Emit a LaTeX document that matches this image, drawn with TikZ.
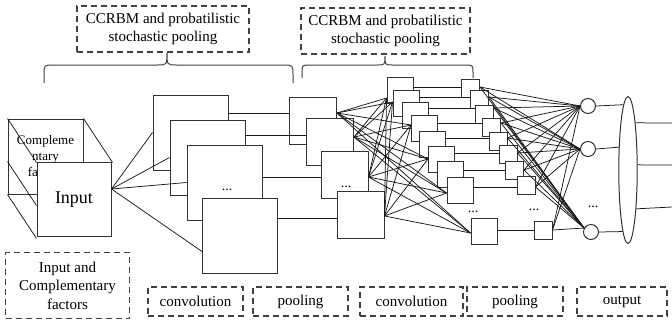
\documentclass[tikz,border=0pt]{standalone}
\usepackage{fontspec}
\setmainfont{Liberation Serif}
\usetikzlibrary{shapes.geometric}
\begin{document}
\begin{tikzpicture}[x=1pt,y=-1pt,
  sq/.style={draw=black!80, line width=1pt, fill=white, inner sep=0pt,
             minimum width=#1, minimum height=#1},
  wire/.style={draw=black!90, line width=0.75pt},
  lbl/.style={draw=black!75, dash pattern=on 6pt off 4pt, line width=1.1pt,
              inner sep=0pt, align=center, font=\fontsize{15}{18.5}\selectfont},
  neuron/.style={circle, draw=black!80, line width=1pt, fill=white,
                 minimum size=15pt, inner sep=0pt},
  dots/.style={inner sep=0pt, font=\fontsize{14}{14}\selectfont},
  brace/.style={draw=black!75, line width=1pt}
]
\useasboundingbox (0,0) rectangle (672,322);

% ---- input cube ----
\node[sq=75pt, align=center, font=\fontsize{13}{16}\selectfont] (cback) at (45.5,156.5) {Compleme\\ntary\\factors};
\draw[wire] (cback.north west) -- ++(29,44);
\draw[wire] (cback.north east) -- ++(29,44);
\draw[wire] ([yshift=-43pt]cback.north west) -- ++(29,44);
\draw[wire] (cback.south west) -- ++(29,44);
\node[sq=74pt, font=\fontsize{18}{18}\selectfont] (cfront) at (74,199.5) {Input};

% ---- first convolution layer ----
\node[sq=75pt] (A) at (190.5,132.5) {};
\node[sq=75pt] (B) at (207.5,157.5) {};
\node[sq=75pt] (C) at (224.5,182.5) {};
\node[dots] (d1) at (227,190) {...};
\node[sq=75pt] (D) at (240,235.5) {};

% ---- first pooling layer ----
\node[sq=47pt] (P1) at (313,120.5) {};
\node[sq=47pt] (P2) at (330,142) {};
\node[sq=47pt] (P3) at (344.5,174.5) {};
\node[dots] (d2) at (346,187) {...};
\node[sq=47pt] (P4) at (360.5,215) {};

% ---- second convolution layer ----
\foreach \n/\x/\y in {Q1/400/90, Q2/406/103.5, Q3/415/115, Q4/424.5/128.5,
                      Q5/432/144, Q6/441.5/159, Q7/450/174, Q8/460/190.5, Q9/484/231.5}
  \node[sq=26pt] (\n) at (\x,\y) {};
\node[dots] (d3) at (473,212) {...};

% ---- second pooling layer ----
\foreach \n/\x/\y in {R1/470.5/88, R2/479.5/99.5, R3/484.5/114.5, R4/491.5/127,
                      R5/498/141, R6/508/154.5, R7/514.5/170, R8/526/185, R9/543/230.5}
  \node[sq=18pt] (\n) at (\x,\y) {};
\node[dots] (d4) at (534,210) {...};

% ---- output units ----
\node[neuron] (O1) at (588,106) {};
\node[neuron] (O2) at (588,149) {};
\node[neuron] (O3) at (591,232) {};
\node[dots] (d5) at (593,207) {...};
\node[ellipse, draw=black!80, line width=1pt, minimum width=18.4pt,
      minimum height=147pt, inner sep=0pt] (ell) at (628,170) {};

% ---- levels of the wires ----
\coordinate (in0) at (0,189);
\foreach \n/\y in {a1/113, a2/135, a3/177, a4/218,
                   s1/113, s2/137, s3/177, s4/216,
                   t1/98, t2/102, t3/125, t4/159, t5/193, t6/233,
                   b1/87, b2/97, b3/108, b4/123, b5/138, b6/153, b7/170, b8/187, b9/230}
  \coordinate (\n) at (0,\y);
\coordinate (r1) at (672,123);
\coordinate (r2) at (672,165);
\coordinate (r3) at (672,207);

% input -> first convolution
\draw[wire] (cfront.east |- in0) -- (A.west);
\draw[wire] (cfront.east |- in0) -- (B.west);
\draw[wire] (cfront.east |- in0) -- (C.west);
\draw[wire] (cfront.east |- in0) -- ([yshift=-16pt]D.west);

% convolution -> pooling
\draw[wire] (A.east |- a1) -- (P1.west |- a1);
\draw[wire] (B.east |- a2) -- (P2.west |- a2);
\draw[wire] (C.east |- a3) -- (P3.west |- a3);
\draw[wire] (D.east |- a4) -- (P4.west |- a4);

% pooling -> second convolution (dense)
\foreach \s/\sl in {P1/s1, P2/s2, P3/s3, P4/s4}
  \foreach \t/\tl in {Q1/t1, Q2/t2, Q4/t3, Q6/t4, Q8/t5, Q9/t6}
    \draw[wire] (\s.east |- \sl) -- (\t.west |- \tl);

% second convolution -> second pooling
\foreach \i in {1,...,9}
  \draw[wire] (Q\i.east |- b\i) -- (R\i.west |- b\i);

% second pooling -> output units (dense)
\foreach \i in {1,...,9} {
  \draw[wire] (R\i.east |- b\i) -- (O1.west);
  \draw[wire] (R\i.east |- b\i) -- (O2.west);
  \draw[wire] (R\i.east |- b\i) -- (O3.150);
}

% output units -> ellipse -> outputs
\draw[wire] (O1.east) -- (ell.94);
\draw[wire] (O2.east) -- (ell.112.8);
\draw[wire] (O3.east) -- (ell.265.4);
\draw[wire] (ell.81.4) -- (r1);
\draw[wire] (ell.28.6) -- (r2);
\draw[wire] (ell.282.1) -- (r3);

% ---- braces ----
\draw[brace] (44,83) -- (44,75) .. controls (44,65) .. (54,65) -- (157,65)
  .. controls (167,65) .. (167,53) .. controls (167,65) .. (177,65) -- (283,65)
  .. controls (293,65) .. (293,75) -- (293,83);
\draw[brace] (302,78) -- (302,73) .. controls (302,65) .. (310,65) -- (377,65)
  .. controls (385,65) .. (385,56) .. controls (385,65) .. (393,65) -- (465,65)
  .. controls (473,65) .. (473,73) -- (473,78);

% ---- labels ----
\node[lbl, minimum width=172pt, minimum height=46pt] (top1) at (163,29)
  {CCRBM and probatilistic\\stochastic pooling};
\node[lbl, minimum width=169pt, minimum height=46pt] (top2) at (385.5,31)
  {CCRBM and probatilistic\\stochastic pooling};
\node[lbl, minimum width=124pt, minimum height=66pt] (lin) at (67.5,285.5)
  {Input and\\Complementary\\factors};
\node[lbl, minimum width=95pt, minimum height=29pt] (lc1) at (195.5,301.5) {convolution};
\node[lbl, minimum width=95pt, minimum height=29pt] (lp1) at (300.5,301.5) {pooling};
\node[lbl, minimum width=103pt, minimum height=29pt] (lc2) at (411.5,301.5) {convolution};
\node[lbl, minimum width=96pt, minimum height=29pt] (lp2) at (515,301.5) {pooling};
\node[lbl, minimum width=90pt, minimum height=29pt] (lout) at (622,301.5) {output};
\end{tikzpicture}
\end{document}
